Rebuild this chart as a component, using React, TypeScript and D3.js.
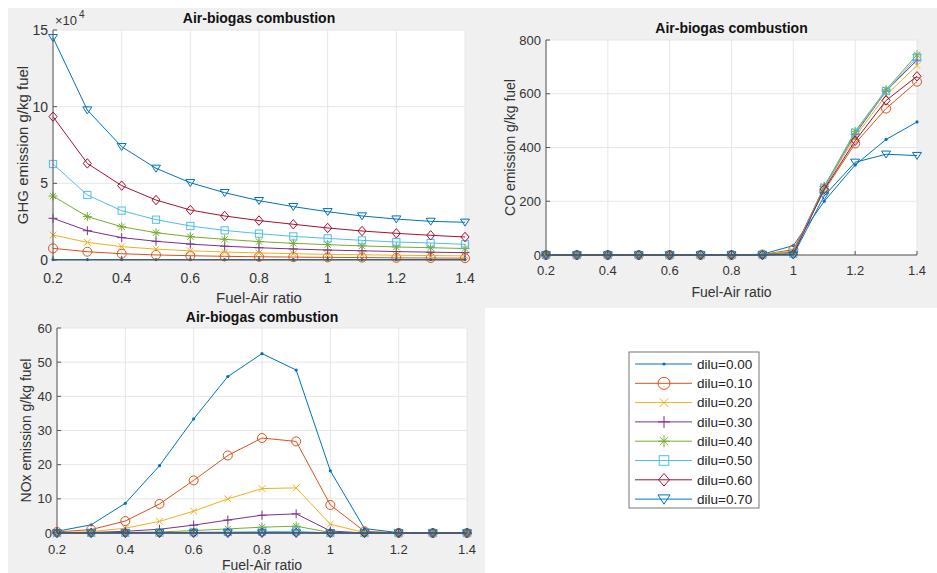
import React from 'react';
import * as d3 from 'd3';

// fuel-air ratio samples shared by all three plots
const fuelAir = [0.2, 0.3, 0.4, 0.5, 0.6, 0.7, 0.8, 0.9, 1.0, 1.1, 1.2, 1.3, 1.4];
const xTicks = [0.2, 0.4, 0.6, 0.8, 1.0, 1.2, 1.4];
const diluLabels = ['dilu=0.00', 'dilu=0.10', 'dilu=0.20', 'dilu=0.30', 'dilu=0.40', 'dilu=0.50', 'dilu=0.60', 'dilu=0.70'];
const lineColors = ['#0072bd', '#d95319', '#edb120', '#7e2f8e', '#77ac30', '#4dbeee', '#a2142f', '#0072bd'];
const markerKinds = ['dot', 'circle', 'x', 'plus', 'star', 'square', 'diamond', 'triangle'];

// GHG emission, units of 1e4 g/kg fuel
const ghg = [
  [0.03, 0.03, 0.03, 0.03, 0.03, 0.03, 0.03, 0.03, 0.03, 0.03, 0.03, 0.03, 0.03],
  [0.76, 0.54, 0.41, 0.33, 0.28, 0.24, 0.21, 0.19, 0.17, 0.16, 0.14, 0.13, 0.12],
  [1.63, 1.15, 0.87, 0.71, 0.6, 0.52, 0.46, 0.41, 0.37, 0.34, 0.31, 0.29, 0.27],
  [2.72, 1.91, 1.46, 1.22, 1.04, 0.9, 0.8, 0.72, 0.65, 0.6, 0.55, 0.51, 0.48],
  [4.17, 2.83, 2.17, 1.78, 1.52, 1.35, 1.2, 1.09, 1.0, 0.92, 0.85, 0.8, 0.75],
  [6.26, 4.24, 3.22, 2.63, 2.22, 1.93, 1.72, 1.54, 1.41, 1.28, 1.17, 1.11, 1.02],
  [9.35, 6.3, 4.85, 3.91, 3.26, 2.87, 2.57, 2.33, 2.09, 1.89, 1.74, 1.61, 1.5],
  [14.5, 9.78, 7.39, 5.98, 5.04, 4.39, 3.87, 3.48, 3.15, 2.87, 2.67, 2.52, 2.46],
];

// CO emission, g/kg fuel
const co = [
  [0, 0, 0, 0, 0, 0, 0, 3, 35, 200, 335, 430, 495],
  [0, 0, 0, 0, 0, 0, 0, 2, 20, 240, 415, 545, 645],
  [0, 0, 0, 0, 0, 0, 0, 2, 15, 250, 440, 595, 705],
  [0, 0, 0, 0, 0, 0, 0, 1, 10, 255, 450, 610, 725],
  [0, 0, 0, 0, 0, 0, 0, 1, 8, 255, 460, 615, 745],
  [0, 0, 0, 0, 0, 0, 0, 1, 5, 250, 455, 610, 735],
  [0, 0, 0, 0, 0, 0, 0, 0, 3, 245, 425, 575, 665],
  [0, 0, 0, 0, 0, 0, 0, 0, 0, 220, 345, 375, 370],
];

// NOx emission, g/kg fuel
const nox = [
  [0.5, 2.4, 8.7, 19.7, 33.4, 45.8, 52.5, 47.7, 18.2, 1.3, 0.1, 0, 0],
  [0.3, 1.0, 3.5, 8.5, 15.4, 22.7, 27.8, 26.8, 8.2, 0.5, 0.05, 0, 0],
  [0.1, 0.4, 1.4, 3.4, 6.4, 10.0, 13.0, 13.2, 2.6, 0.1, 0, 0, 0],
  [0.05, 0.15, 0.5, 1.1, 2.3, 3.8, 5.2, 5.6, 0.6, 0, 0, 0, 0],
  [0, 0.05, 0.15, 0.3, 0.7, 1.2, 1.7, 2.0, 0.15, 0, 0, 0, 0],
  [0, 0.02, 0.05, 0.1, 0.2, 0.3, 0.4, 0.5, 0, 0, 0, 0, 0],
  [0, 0, 0.01, 0.02, 0.03, 0.04, 0.05, 0.05, 0, 0, 0, 0, 0],
  [0, 0, 0, 0, 0, 0, 0, 0, 0, 0, 0, 0, 0],
];

const FONT = '"Liberation Sans", Arial, Helvetica, sans-serif';
const TEXT = '#333';

function Marker({ kind, x, y, s, color }: any) {
  const h = s / 2;
  switch (kind) {
    case 'dot':
      return <circle cx={x} cy={y} r={1.6} fill={color} />;
    case 'circle':
      return <circle cx={x} cy={y} r={h} fill="none" stroke={color} />;
    case 'x': {
      const a = h * 0.75;
      return <path d={`M${x - a},${y - a}L${x + a},${y + a}M${x - a},${y + a}L${x + a},${y - a}`} stroke={color} fill="none" />;
    }
    case 'plus':
      return <path d={`M${x - h},${y}L${x + h},${y}M${x},${y - h}L${x},${y + h}`} stroke={color} fill="none" />;
    case 'star': {
      const a = h * 0.7;
      return <path d={`M${x - h},${y}L${x + h},${y}M${x},${y - h}L${x},${y + h}M${x - a},${y - a}L${x + a},${y + a}M${x - a},${y + a}L${x + a},${y - a}`} stroke={color} fill="none" />;
    }
    case 'square': {
      const a = h * 0.8;
      return <rect x={x - a} y={y - a} width={2 * a} height={2 * a} fill="none" stroke={color} />;
    }
    case 'diamond':
      return <path d={`M${x},${y - h * 1.05}L${x + h * 0.9},${y}L${x},${y + h * 1.05}L${x - h * 0.9},${y}Z`} fill="none" stroke={color} />;
    case 'triangle':
      return <path d={`M${x - h},${y - h * 0.7}L${x + h},${y - h * 0.7}L${x},${y + h * 0.85}Z`} fill="none" stroke={color} />;
    default:
      return null;
  }
}

function Panel({ series, box, yDomain, yTicks, yLabel, fs, pos }: any) {
  const x = d3.scaleLinear().domain([0.2, 1.4]).range([box.left, box.right]);
  const y = d3.scaleLinear().domain(yDomain).range([box.bottom, box.top]);
  const line = d3.line<number>().x((_, i) => x(fuelAir[i])).y((d) => y(d));
  const fmt = (v: number) => String(+v.toFixed(1));
  return (
    <g fontFamily={FONT}>
      <rect x={box.left} y={box.top} width={box.right - box.left} height={box.bottom - box.top} fill="#fff" />
      {xTicks.map((t) => (
        <line key={'gx' + t} x1={x(t)} x2={x(t)} y1={box.top} y2={box.bottom} stroke="#e6e6e6" />
      ))}
      {yTicks.map((t: number) => (
        <line key={'gy' + t} x1={box.left} x2={box.right} y1={y(t)} y2={y(t)} stroke="#e6e6e6" />
      ))}
      {series.map((s: number[], k: number) => (
        <g key={k}>
          <path d={line(s) || ''} fill="none" stroke={lineColors[k]} strokeWidth={1} />
          {s.map((v, i) => (
            <Marker key={i} kind={markerKinds[k]} x={x(fuelAir[i])} y={y(v)} s={9} color={lineColors[k]} />
          ))}
        </g>
      ))}
      <line x1={box.left} x2={box.left} y1={box.top} y2={box.bottom} stroke="#555" />
      <line x1={box.left} x2={box.right} y1={box.bottom} y2={box.bottom} stroke="#555" />
      {xTicks.map((t) => (
        <g key={'tx' + t}>
          <line x1={x(t)} x2={x(t)} y1={box.bottom} y2={box.bottom - 4} stroke="#555" />
          <text x={x(t)} y={pos.xTickY} textAnchor="middle" fontSize={fs.tick} fill={TEXT}>{fmt(t)}</text>
        </g>
      ))}
      {yTicks.map((t: number) => (
        <g key={'ty' + t}>
          <line x1={box.left} x2={box.left + 4} y1={y(t)} y2={y(t)} stroke="#555" />
          <text x={box.left - 5} y={y(t)} dy="0.35em" textAnchor="end" fontSize={fs.tick} fill={TEXT}>{t}</text>
        </g>
      ))}
      <text x={(box.left + box.right) / 2} y={pos.titleY} textAnchor="middle" fontSize={fs.title} fontWeight="bold" fill="#111">
        Air-biogas combustion
      </text>
      <text x={(box.left + box.right) / 2} y={pos.xLabelY} textAnchor="middle" fontSize={fs.label} fill={TEXT}>
        Fuel-Air ratio
      </text>
      <text transform={`translate(${pos.yLabelX},${(box.top + box.bottom) / 2}) rotate(-90)`} textAnchor="middle" fontSize={fs.label} fill={TEXT}>
        {yLabel}
      </text>
    </g>
  );
}

function Legend() {
  const left = 629, top = 352, w = 130, h = 156;
  const rowY = (i: number) => 364 + i * 19.3;
  return (
    <g fontFamily={FONT}>
      <rect x={left} y={top} width={w} height={h} fill="#fff" stroke="#777" />
      {diluLabels.map((lab, i) => (
        <g key={lab}>
          <line x1={635} x2={692} y1={rowY(i)} y2={rowY(i)} stroke={lineColors[i]} />
          <Marker kind={markerKinds[i]} x={664} y={rowY(i)} s={12} color={lineColors[i]} />
          <text x={697} y={rowY(i)} dy="0.35em" fontSize={13.5} fill="#222">{lab}</text>
        </g>
      ))}
    </g>
  );
}

export default function App() {
  return (
    <div style={{ position: 'absolute', left: 0, top: 0 }}>
      <svg width={937} height={573} style={{ display: 'block' }}>
        <rect x={0} y={0} width={937} height={573} fill="#fff" />
        <rect x={8} y={8} width={929} height={565} fill="#f0f0f0" />
        <rect x={485} y={308} width={452} height={265} fill="#fff" />
        <Panel
          series={ghg}
          box={{ left: 53, right: 465, top: 30, bottom: 260 }}
          yDomain={[0, 15]}
          yTicks={[0, 5, 10, 15]}
          yLabel="GHG emission g/kg fuel"
          fs={{ tick: 14, label: 15, title: 14 }}
          pos={{ titleY: 23, xTickY: 283, xLabelY: 303, yLabelX: 28 }}
        />
        <text x={55} y={25} fontFamily={FONT} fontSize={13} fill={TEXT}>×10</text>
        <text x={79} y={18} fontFamily={FONT} fontSize={10} fill={TEXT}>4</text>
        <Panel
          series={co}
          box={{ left: 546, right: 917, top: 40, bottom: 255 }}
          yDomain={[0, 800]}
          yTicks={[0, 200, 400, 600, 800]}
          yLabel="CO emission g/kg fuel"
          fs={{ tick: 13, label: 14, title: 14 }}
          pos={{ titleY: 33, xTickY: 275, xLabelY: 297, yLabelX: 515 }}
        />
        <Panel
          series={nox}
          box={{ left: 57, right: 467, top: 328, bottom: 533 }}
          yDomain={[0, 60]}
          yTicks={[0, 10, 20, 30, 40, 50, 60]}
          yLabel="NOx emission g/kg fuel"
          fs={{ tick: 13, label: 14, title: 14 }}
          pos={{ titleY: 322, xTickY: 554, xLabelY: 570, yLabelX: 31 }}
        />
        <Legend />
      </svg>
    </div>
  );
}
